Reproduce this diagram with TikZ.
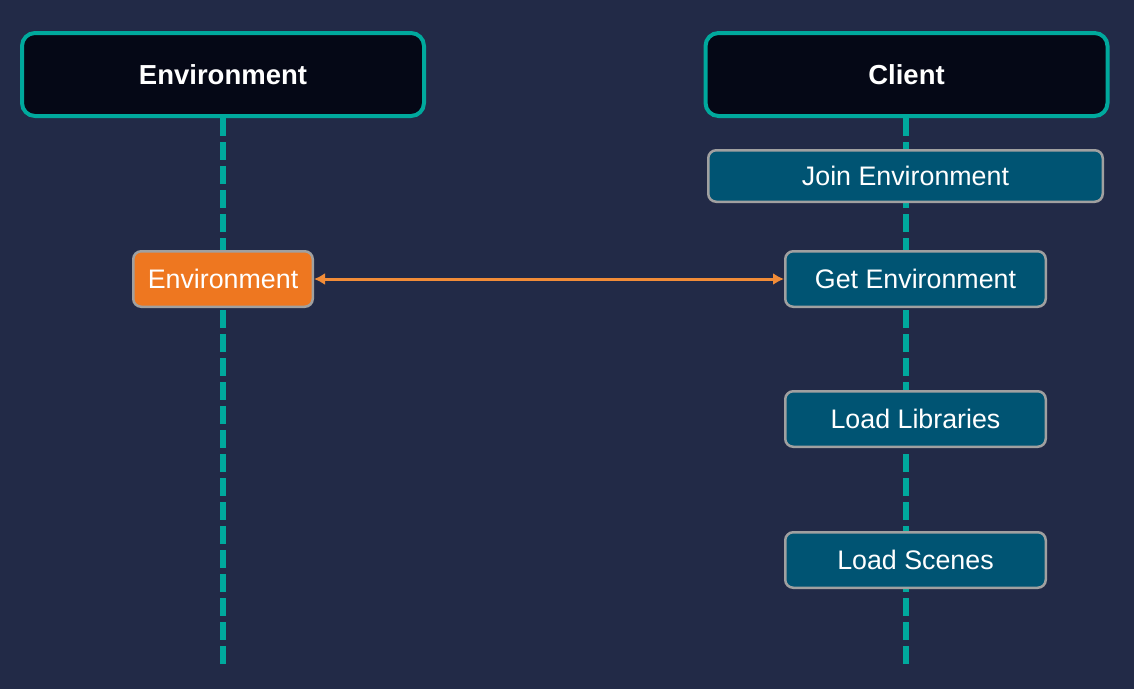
\documentclass[tikz,border=0pt]{standalone}
\usepackage{fontspec}
\setmainfont{Liberation Sans}
\usetikzlibrary{arrows.meta}
\definecolor{bg}{HTML}{222A47}
\definecolor{hdrfill}{HTML}{050816}
\definecolor{teal}{HTML}{00A99D}
\definecolor{boxblue}{HTML}{005473}
\definecolor{boxorange}{HTML}{EE7720}
\definecolor{boxborder}{HTML}{A0A0A0}
\definecolor{arroworange}{HTML}{F28C38}
\tikzset{
  header/.style={draw=teal, fill=hdrfill, line width=4pt, rounded corners=13pt,
    minimum width=402pt, minimum height=83pt, inner sep=0pt, text=white,
    font=\fontsize{27.5pt}{31pt}\selectfont\bfseries},
  stepbox/.style={draw=boxborder, fill=boxblue, line width=2.5pt, rounded corners=8pt,
    minimum width=260.5pt, minimum height=55.5pt, inner sep=0pt, text=white,
    font=\fontsize{26.8pt}{30pt}\selectfont},
  orangebox/.style={stepbox, fill=boxorange, minimum width=179.5pt},
  lifeline/.style={draw=teal, line width=5.5pt, dash pattern=on 18pt off 6pt},
  msg/.style={draw=arroworange, line width=3pt, {Latex[length=11pt,width=12pt]}-{Latex[length=11pt,width=12pt]}}
}
\begin{document}
\begin{tikzpicture}[x=1pt,y=-1pt]
\fill[bg] (0,0) rectangle (1134,689);
\useasboundingbox (0,0) rectangle (1134,689);
\node[header] (envh) at (223,74.5) {Environment};
\node[header] (clienth) at (906.5,74.5) {Client};
\coordinate (envend) at (223,667);
\coordinate (clientend) at (906,667);
\path[lifeline] (envh.south) -- (envend);
\path[lifeline] (906,118) -- (clientend);
\node[stepbox, minimum width=394.5pt, minimum height=51.5pt] (join) at (905.5,176) {Join Environment};
\node[orangebox] (env) at (223,279) {Environment};
\node[stepbox] (get) at (915.5,279) {Get Environment};
\node[stepbox] (libs) at (915.5,419) {Load Libraries};
\node[stepbox] (scenes) at (915.5,560) {Load Scenes};
\draw[msg] (env.east) -- (get.west);
\end{tikzpicture}
\end{document}
